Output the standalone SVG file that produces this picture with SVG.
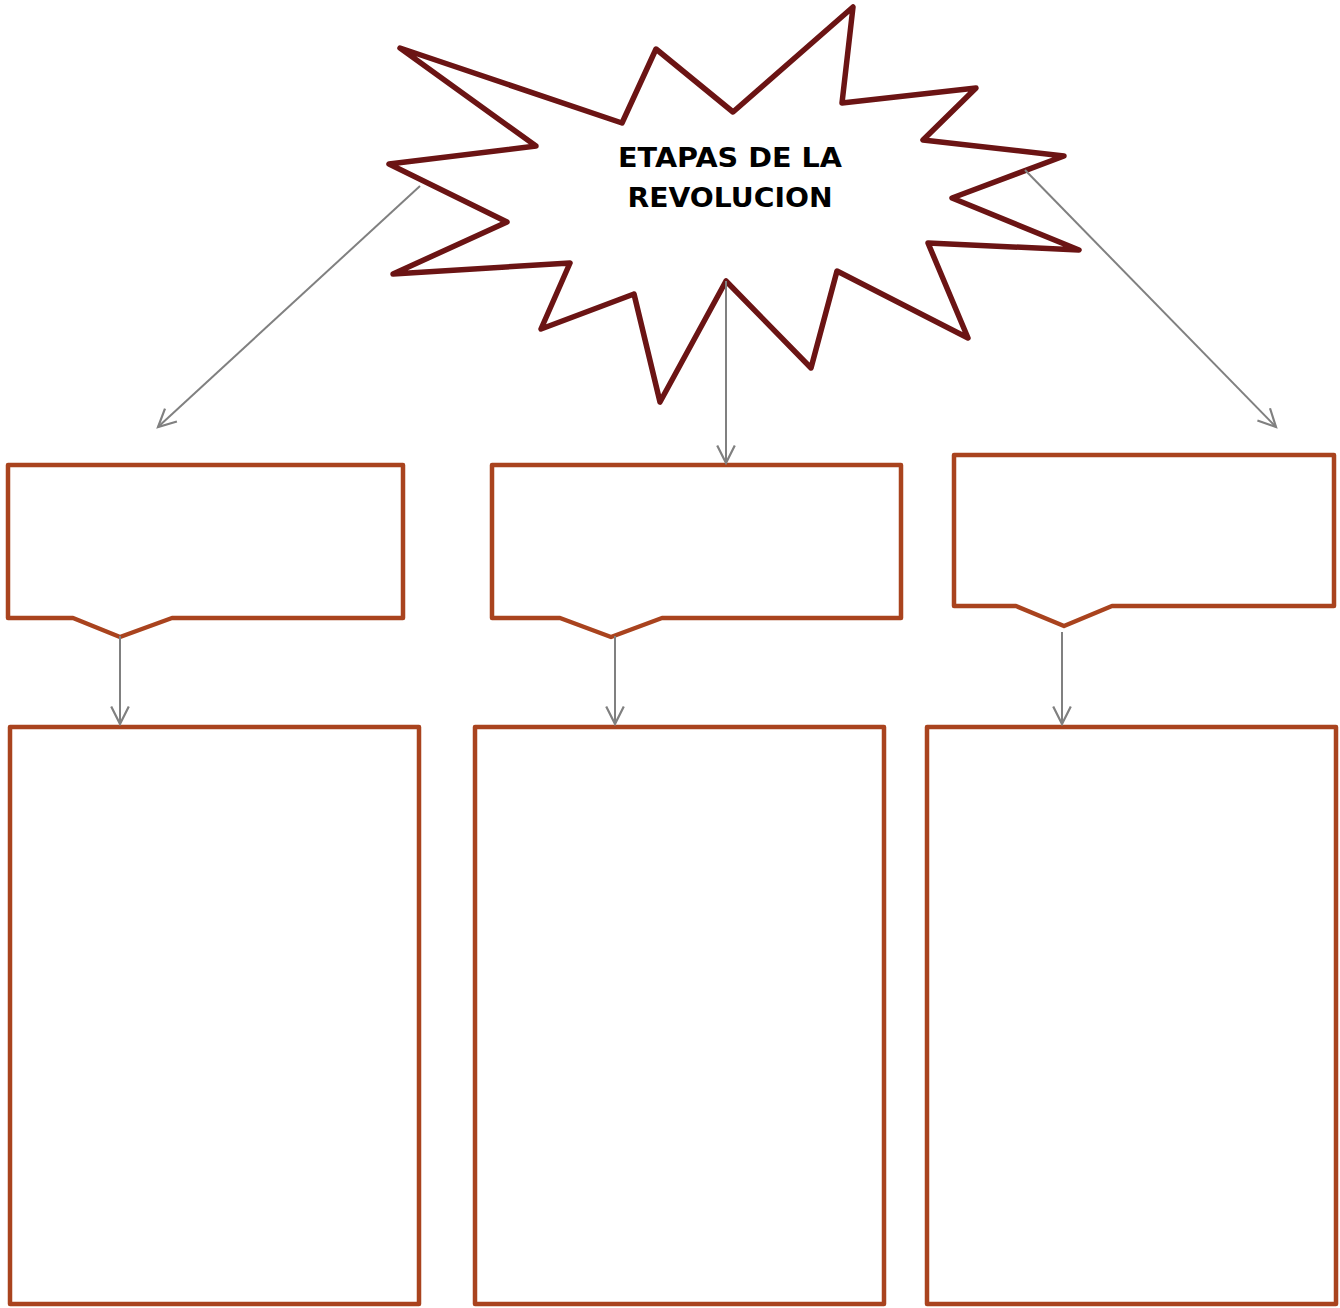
<svg xmlns="http://www.w3.org/2000/svg" width="1340" height="1308" viewBox="0 0 1340 1308">
<style>
.box{fill:#ffffff;stroke:#A9431E;stroke-width:4.5;stroke-linejoin:round}
.star{fill:#ffffff;stroke:#6B1414;stroke-width:5.5;stroke-linejoin:round}
.conn{stroke:#808080;stroke-width:2;fill:none}
.title{font-family:"DejaVu Sans","Liberation Sans",Arial,sans-serif;font-weight:bold;font-size:26px;fill:#000000}
</style>
<defs>
<marker id="arr" viewBox="0 0 20 20" refX="18" refY="10" markerWidth="22" markerHeight="22" markerUnits="userSpaceOnUse" orient="auto">
<path d="M2,2 L18,10 L2,18" fill="none" stroke="#808080" stroke-width="2"/>
</marker>
</defs>
<rect width="1340" height="1308" fill="#ffffff"/>
<g id="star">
<polygon class="star" points="400,48 622,123 656,49 733,112 853,7 842,103 976,88 923,140 1064,156 952,198 1079,250 928,243 968,338 837,271 811,368 726,281 660,402 634,294 541,329 570,263 393,274 507,222 389,164 536,146"/>
<text class="title" x="730" y="167" text-anchor="middle" textLength="224" lengthAdjust="spacingAndGlyphs">ETAPAS DE LA</text>
<text class="title" x="730" y="207" text-anchor="middle" textLength="205" lengthAdjust="spacingAndGlyphs">REVOLUCION</text>
</g>
<g id="box1"><path class="box" d="M8,465 L403,465 L403,618 L172,618 L120,637 L73,618 L8,618 Z"/></g>
<g id="box2"><path class="box" d="M492,465 L901,465 L901,618 L662,618 L611,637 L560,618 L492,618 Z"/></g>
<g id="box3"><path class="box" d="M954,455 L1334,455 L1334,606 L1112,606 L1064,626 L1016,606 L954,606 Z"/></g>
<g id="box4"><rect class="box" x="10" y="727" width="409" height="577"/></g>
<g id="box5"><rect class="box" x="475" y="727" width="409" height="577"/></g>
<g id="box6"><rect class="box" x="927" y="727" width="409" height="577"/></g>
<g id="connectors">
<line class="conn" x1="420" y1="186" x2="158" y2="427" marker-end="url(#arr)"/>
<line class="conn" x1="1025" y1="170" x2="1276" y2="427" marker-end="url(#arr)"/>
<line class="conn" x1="726" y1="281" x2="726" y2="463" marker-end="url(#arr)"/>
<line class="conn" x1="120" y1="636" x2="120" y2="724" marker-end="url(#arr)"/>
<line class="conn" x1="615" y1="636" x2="615" y2="724" marker-end="url(#arr)"/>
<line class="conn" x1="1062" y1="632" x2="1062" y2="724" marker-end="url(#arr)"/>
</g>
</svg>
